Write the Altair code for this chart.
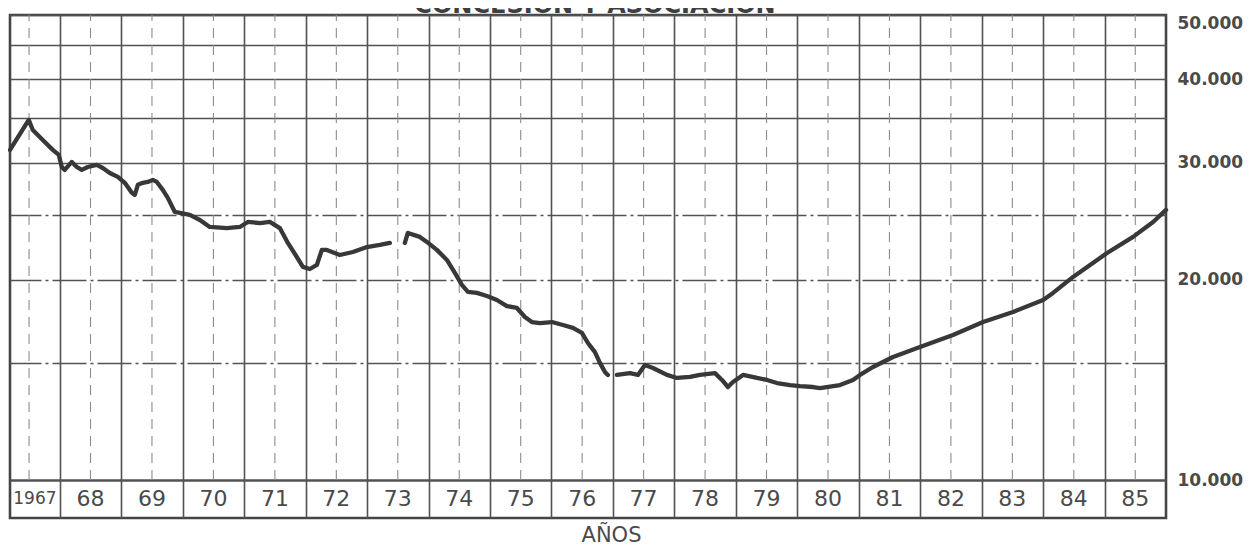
import altair as alt
import pandas as pd

TITLE = "CONCESION Y ASOCIACION"
X_TITLE = "AÑOS"

years = list(range(1967, 1986))
year_labels = ["1967", "68", "69", "70", "71", "72", "73", "74", "75", "76",
               "77", "78", "79", "80", "81", "82", "83", "84", "85"]
year_bounds = list(range(1968, 1986))
y_label_values = [10000, 20000, 30000, 40000, 50000]
y_grid_values = [10000, 15000, 20000, 25000, 30000, 35000, 40000, 45000, 50000]

X_MIN, X_MAX = 1967.19, 1986.0
Y_MIN, Y_MAX = 8770, 50000

# segment 1: 1967 - mid 1973
seg_a_t = [1967.19, 1967.495, 1967.561, 1967.723, 1967.886, 1967.984, 1968.033, 1968.081,
           1968.195, 1968.277, 1968.358, 1968.456, 1968.602, 1968.700, 1968.814, 1968.944,
           1969.058, 1969.172, 1969.221, 1969.270, 1969.351, 1969.432, 1969.514, 1969.579,
           1969.676, 1969.758, 1969.872, 1969.953, 1970.116, 1970.279, 1970.441, 1970.718,
           1970.930, 1971.060, 1971.255, 1971.418, 1971.581, 1971.711, 1971.857, 1971.955,
           1972.069, 1972.183, 1972.264, 1972.346, 1972.557, 1972.769, 1972.997, 1973.208,
           1973.371]
seg_a_v = [31350, 34780, 33590, 32450, 31350, 30810, 29550, 29250,
           30070, 29550, 29250, 29550, 29760, 29450, 28940, 28550,
           27970, 27020, 26830, 27780, 27970, 28060, 28260, 28060,
           27300, 26550, 25290, 25210, 25030, 24600, 24010, 23920,
           24010, 24430, 24340, 24430, 23920, 22720, 21640, 20910,
           20760, 21050, 22180, 22180, 21790, 22020, 22400, 22560,
           22720]

# segment 2: mid 1973 - end 1976
seg_b_t = [1973.615, 1973.664, 1973.859, 1973.973, 1974.136, 1974.299, 1974.429, 1974.543,
           1974.641, 1974.787, 1974.950, 1975.113, 1975.275, 1975.438, 1975.568, 1975.682,
           1975.813, 1976.008, 1976.187, 1976.350, 1976.496, 1976.594, 1976.708, 1976.789,
           1976.870, 1976.919]
seg_b_v = [22720, 23520, 23200, 22800, 22180, 21420, 20480, 19650,
           19180, 19110, 18910, 18650, 18260, 18140, 17580, 17280,
           17220, 17280, 17100, 16930, 16640, 16070, 15570, 15000,
           14540, 14390]

# segment 3: 1977 - 1985
seg_c_t = [1977.066, 1977.277, 1977.408, 1977.521, 1977.652, 1977.880, 1978.042, 1978.254,
           1978.417, 1978.661, 1978.775, 1978.872, 1978.954, 1979.117, 1979.345, 1979.507,
           1979.670, 1979.882, 1980.044, 1980.256, 1980.370, 1980.695, 1980.907, 1981.021,
           1981.232, 1981.558, 1981.997, 1982.534, 1983.023, 1983.511, 1984.000, 1984.162,
           1984.488, 1985.041, 1985.464, 1985.790, 1986.000]
seg_c_v = [14390, 14480, 14390, 14890, 14740, 14390, 14240, 14290,
           14390, 14480, 14140, 13800, 14040, 14390, 14240, 14140,
           13990, 13890, 13840, 13800, 13750, 13890, 14140, 14390,
           14790, 15310, 15850, 16520, 17280, 17890, 18650, 19110,
           20200, 21940, 23200, 24430, 25470]

series = pd.concat([
    pd.DataFrame({"t": seg_a_t, "v": seg_a_v, "seg": "a"}),
    pd.DataFrame({"t": seg_b_t, "v": seg_b_v, "seg": "b"}),
    pd.DataFrame({"t": seg_c_t, "v": seg_c_v, "seg": "c"}),
], ignore_index=True)

cells = pd.DataFrame({
    "label": year_labels,
    "xc": [(max(y, X_MIN) + y + 1) / 2 for y in years],
    "mid": [y + 0.5 for y in years],
})
title_df = pd.DataFrame({"title": [TITLE]})

BAND_MID = (Y_MIN * 10000) ** 0.5

FONT = "DejaVu Sans"
INK = "#4a4a4a"
GRID = "#525252"

x_scale = alt.Scale(domain=[X_MIN, X_MAX], nice=False, zero=False)
y_scale = alt.Scale(type="log", domain=[Y_MIN, Y_MAX], nice=False)

label_expr = "datum.value % 10000 == 0 ? replace(format(datum.value, ','), ',', '.') : ''"

x_axis = alt.Axis(
    values=year_bounds, grid=True, gridColor=GRID, gridWidth=1.6,
    labels=False, ticks=False, domain=False,
    title=X_TITLE, titleFont=FONT, titleFontSize=21, titleFontWeight="normal",
    titleColor=INK, titlePadding=6, titleX=601)

y_axis = alt.Axis(
    orient="right", values=y_grid_values, labelExpr=label_expr,
    ticks=False, domain=False, labelPadding=11, labelFlush=True,
    labelFont=FONT, labelFontSize=17, labelFontWeight="bold", labelColor=INK,
    grid=True, gridColor=GRID,
    gridWidth={"condition": {"test": "datum.value == 10000", "value": 2.6}, "value": 1.6},
    gridDash={"condition": {"test": "datum.value >= 15000 && datum.value <= 25000",
                            "value": [34, 4, 3, 4]}, "value": []},
    title=None)

mid_rules = alt.Chart(cells).mark_rule(
    color="#8c8c8c", strokeWidth=1.1, strokeDash=[10, 7]
).encode(
    x=alt.X("mid:Q", scale=x_scale, axis=x_axis),
    y=alt.YDatum(10000, type="quantitative", scale=y_scale, axis=y_axis),
    y2=alt.Y2Datum(50000),
)

line = alt.Chart(series).mark_line(
    color="#383838", strokeWidth=4.3, strokeJoin="round", strokeCap="round"
).encode(
    x=alt.X("t:Q", scale=x_scale, axis=x_axis),
    y=alt.Y("v:Q", scale=y_scale, axis=y_axis),
    detail="seg:N",
)

labels = alt.Chart(cells).mark_text(
    font=FONT, color=INK, baseline="middle", align="center"
).encode(
    x=alt.X("xc:Q", scale=x_scale, axis=x_axis),
    y=alt.YDatum(BAND_MID, type="quantitative", scale=y_scale, axis=y_axis),
    text="label:N",
    size=alt.condition("datum.label == '1967'", alt.value(17), alt.value(22)),
)

title_layer = alt.Chart(title_df).mark_text(
    font=FONT, fontSize=24, fontWeight="bold", color="#3f3f3f",
    baseline="alphabetic", align="center", dy=-2, dx=7
).encode(
    x=alt.XDatum((X_MIN + X_MAX) / 2, type="quantitative", scale=x_scale, axis=x_axis),
    y=alt.YDatum(Y_MAX, type="quantitative", scale=y_scale, axis=y_axis),
    text="title:N",
)

chart = alt.layer(mid_rules, line, labels, title_layer).properties(
    width=1156, height=503,
    autosize=alt.AutoSizeParams(type="none"),
    padding={"left": 2, "top": 7, "right": 82, "bottom": 27},
    background="white",
).configure_view(stroke="#454545", strokeWidth=2.6)

chart.save("out.html", embed_options={"renderer": "svg", "actions": False})
